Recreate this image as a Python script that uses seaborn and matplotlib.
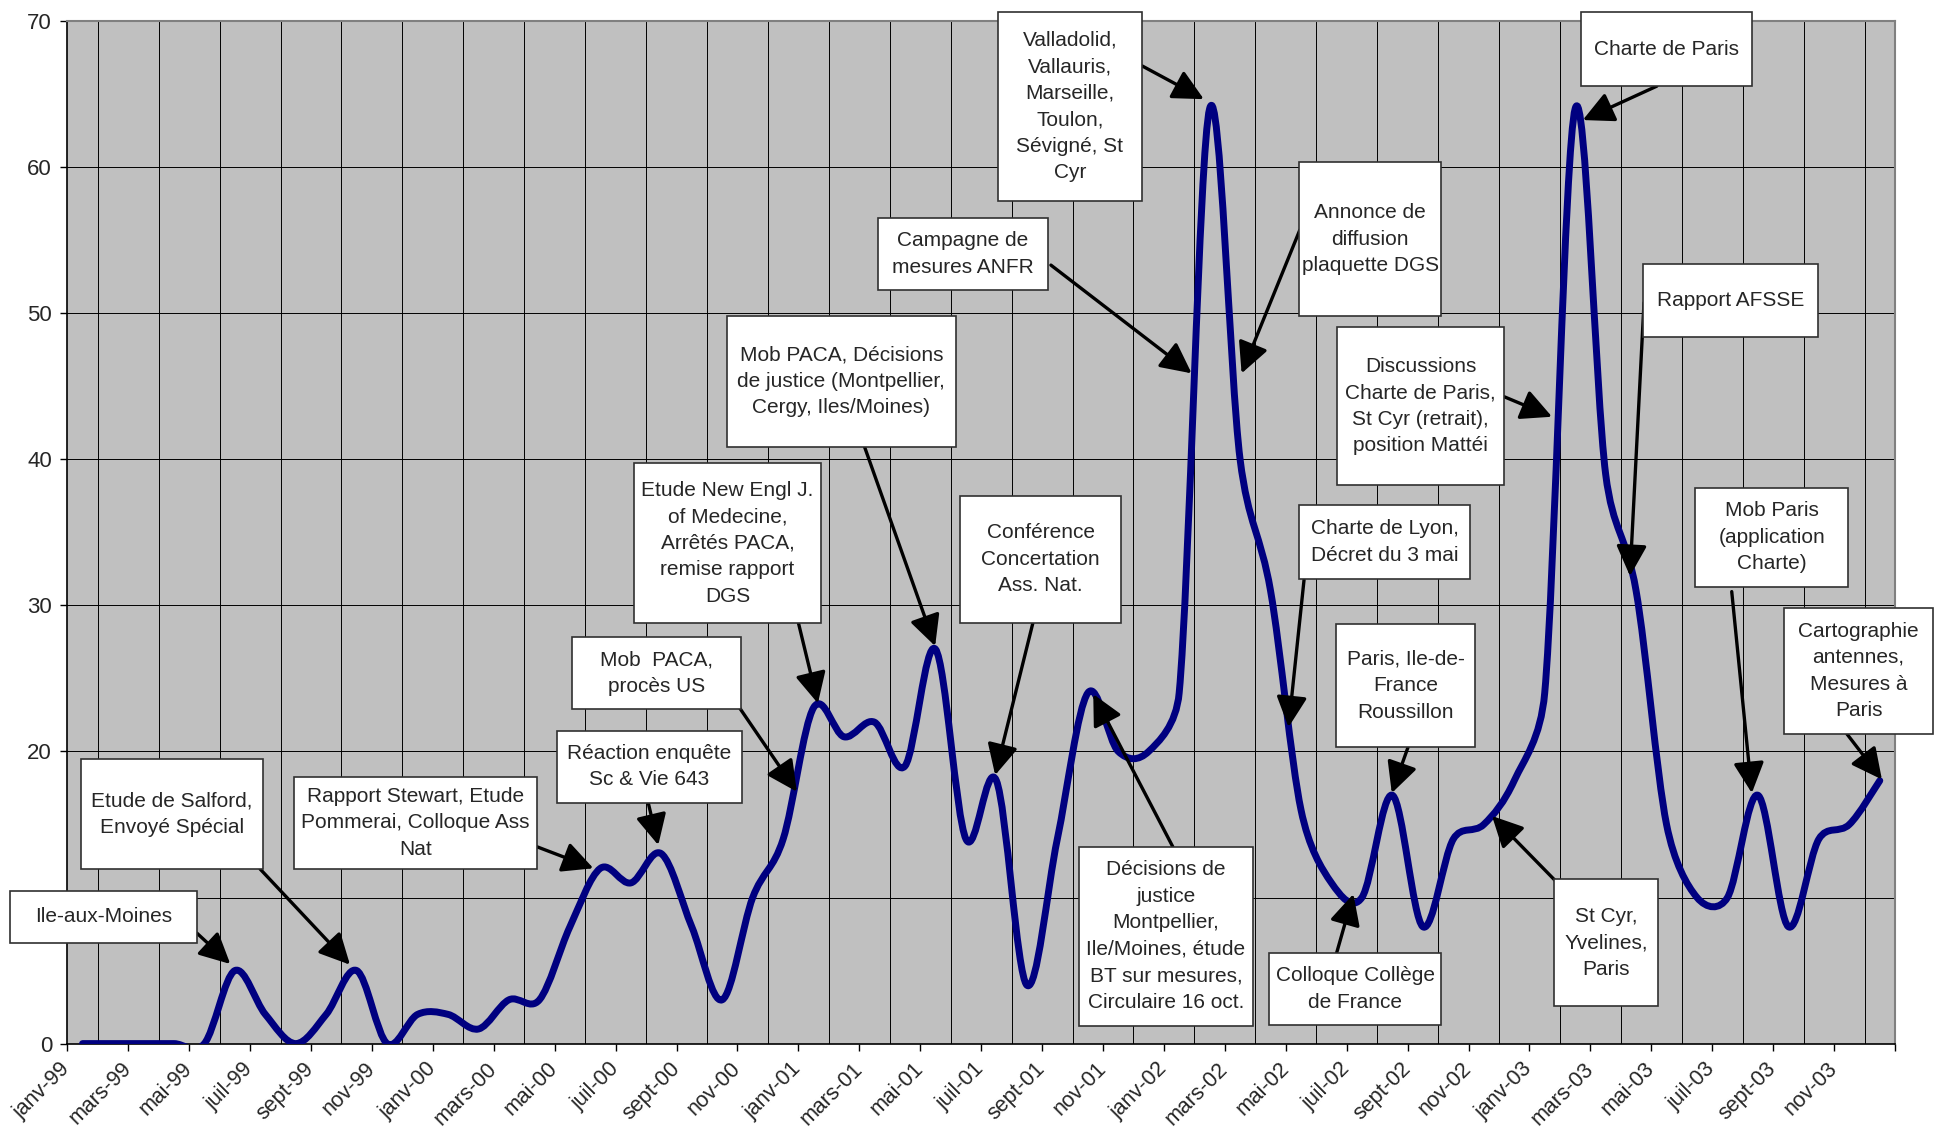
import numpy as np
import matplotlib
matplotlib.use("Agg")
import matplotlib.pyplot as plt
from matplotlib.path import Path
from matplotlib.patches import PathPatch, Rectangle
import seaborn as sns

# monthly counts, janv-99 .. déc-03
VALUES = [0, 0, 0, 0, 0, 5, 2, 0, 2, 5, 0, 2,
          2, 1, 3, 3, 8, 12, 11, 13, 8, 3, 10, 14,
          23, 21, 22, 19, 27, 14, 18, 4, 14, 24, 20, 20,
          24, 64, 40, 31, 16, 11, 10, 17, 8, 14, 15, 18,
          24, 64, 39, 31, 15, 10, 10, 17, 8, 14, 15, 18]

TICK_LABELS = ["janv-99", "mars-99", "mai-99", "juil-99", "sept-99", "nov-99",
               "janv-00", "mars-00", "mai-00", "juil-00", "sept-00", "nov-00",
               "janv-01", "mars-01", "mai-01", "juil-01", "sept-01", "nov-01",
               "janv-02", "mars-02", "mai-02", "juil-02", "sept-02", "nov-02",
               "janv-03", "mars-03", "mai-03", "juil-03", "sept-03", "nov-03"]

Y_TICKS = [0, 10, 20, 30, 40, 50, 60, 70]

# (text, box x0/x1 in months, box top/bottom in values, arrow start, arrow tip)
ANNOTATIONS = [
    ("Ile-aux-Moines", (-2.38, 3.77), (10.44, 6.91), (3.75, 7.57), (4.85, 5.45)),
    ("Etude de Salford,\nEnvoyé Spécial", (-0.06, 5.93), (19.46, 11.95), (5.83, 11.95), (8.78, 5.40)),
    ("Rapport Stewart, Etude\nPommerai, Colloque Ass\nNat", (6.94, 14.91), (18.27, 11.95), (14.91, 13.48), (16.77, 12.0)),
    ("Réaction enquête\nSc & Vie 643", (15.57, 21.66), (21.42, 16.49), (18.57, 16.49), (18.90, 13.59)),
    ("Mob  PACA,\nprocès US", (16.06, 21.63), (27.85, 22.90), (21.58, 22.95), (23.45, 17.24)),
    ("Etude New Engl J.\nof Medecine,\nArrêtés PACA,\nremise rapport\nDGS", (18.10, 24.24), (39.74, 28.79), (23.50, 28.81), (24.14, 23.29)),
    ("Mob PACA, Décisions\nde justice (Montpellier,\nCergy, Iles/Moines)", (21.15, 28.67), (49.80, 40.86), (25.67, 40.86), (27.99, 27.21)),
    ("Campagne de\nmesures ANFR", (26.11, 31.70), (56.53, 51.58), (31.79, 53.29), (36.41, 45.88)),
    ("Valladolid,\nVallauris,\nMarseille,\nToulon,\nSévigné, St\nCyr", (30.05, 34.78), (70.61, 57.67), (34.78, 66.93), (36.81, 64.65)),
    ("Annonce de\ndiffusion\nplaquette DGS", (39.94, 44.60), (60.34, 49.80), (39.96, 55.69), (38.05, 45.88)),
    ("Charte de Paris", (49.18, 54.81), (70.61, 65.54), (51.68, 65.54), (49.25, 63.22)),
    ("Rapport AFSSE", (51.22, 56.97), (53.36, 48.38), (51.26, 50.71), (50.80, 32.01)),
    ("Discussions\nCharte de Paris,\nSt Cyr (retrait),\nposition Mattéi", (41.18, 46.67), (49.07, 38.23), (46.67, 44.28), (48.24, 42.91)),
    ("Charte de Lyon,\nDécret du 3 mai", (39.94, 45.55), (36.87, 31.80), (40.10, 31.75), (39.59, 21.66)),
    ("Paris, Ile-de-\nFrance\nRoussillon", (41.15, 45.72), (28.74, 20.27), (43.51, 20.27), (42.98, 17.15)),
    ("Colloque Collège\nde France", (38.96, 44.60), (6.21, 1.27), (41.17, 6.21), (41.72, 10.24)),
    ("Décisions de\njustice\nMontpellier,\nIle/Moines, étude\nBT sur mesures,\nCirculaire 16 oct.", (32.72, 38.42), (13.48, 1.22), (35.79, 13.48), (33.18, 23.92)),
    ("Conférence\nConcertation\nAss. Nat.", (28.82, 34.08), (37.50, 28.81), (31.20, 28.81), (29.96, 18.38)),
    ("St Cyr,\nYvelines,\nParis", (48.31, 51.72), (11.27, 2.54), (48.34, 11.17), (46.27, 15.58)),
    ("Mob Paris\n(application\nCharte)", (52.95, 57.95), (38.06, 31.27), (54.14, 30.94), (54.80, 17.15)),
    ("Cartographie\nantennes,\nMesures à\nParis", (55.86, 60.75), (29.84, 21.20), (57.92, 21.20), (59.07, 18.08)),
]

sns.set_style("ticks")
plt.rcParams["font.family"] = ["Liberation Sans", "DejaVu Sans"]

fig = plt.figure(figsize=(19.43, 11.35), dpi=100)
ax = fig.add_axes([0.03464, 0.08053, 0.94066, 0.90097])
ax.set_facecolor("#c0c0c0")

n = len(VALUES)
ax.set_xlim(-0.5, n - 0.5)
ax.set_ylim(0, 70)


def smooth_path(xs, ys):
    # bezier through the points, handles capped at half the segment (in screen space)
    to_px = ax.transData
    p = to_px.transform(np.column_stack([xs, ys]))
    prev = np.vstack([p[:1], p[:-1]])
    nxt = np.vstack([p[1:], p[-1:]])
    tang = (nxt - prev) / 6.0
    verts = [p[0]]
    codes = [Path.MOVETO]
    for i in range(len(p) - 1):
        seg = np.hypot(*(p[i + 1] - p[i]))
        t0, t1 = tang[i], tang[i + 1]
        l0, l1 = np.hypot(*t0), np.hypot(*t1)
        if l0 > seg / 2:
            t0 = t0 * (seg / 2) / l0
        if l1 > seg / 2:
            t1 = t1 * (seg / 2) / l1
        verts += [p[i] + t0, p[i + 1] - t1, p[i + 1]]
        codes += [Path.CURVE4] * 3
    verts = to_px.inverted().transform(np.array(verts))
    return Path(verts, codes)


curve = PathPatch(smooth_path(np.arange(n, dtype=float), np.array(VALUES, dtype=float)),
                  facecolor="none", edgecolor="#000080", lw=5, zorder=3)
curve.set_capstyle("round")
curve.set_joinstyle("round")
ax.add_patch(curve)

bounds = np.arange(n + 1) - 0.5
ax.set_xticks(bounds, minor=True)
ax.set_xticks(bounds[::2])
ax.set_xticklabels(TICK_LABELS + [""], rotation=45, ha="right", va="center",
                   rotation_mode="anchor", fontsize=15.5)
ax.set_yticks(Y_TICKS)
ax.set_yticklabels([str(v) for v in Y_TICKS], fontsize=16)

ax.tick_params(axis="x", which="major", length=5, width=1, color="black", pad=11)
ax.tick_params(axis="x", which="minor", length=0)
ax.tick_params(axis="y", length=5, width=1, color="black", pad=6)

ax.grid(axis="x", which="minor", color="black", lw=0.7)
ax.grid(axis="x", which="major", visible=False)
ax.grid(axis="y", which="major", color="black", lw=0.7)
ax.set_axisbelow(True)

for side in ["left", "bottom"]:
    ax.spines[side].set_color("black")
    ax.spines[side].set_linewidth(1.2)
for side in ["top", "right"]:
    ax.spines[side].set_visible(True)
    ax.spines[side].set_color("#808080")
    ax.spines[side].set_linewidth(1.5)

for text, (bx0, bx1), (btop, bbot), start, tip in ANNOTATIONS:
    ax.annotate("", xy=tip, xytext=start, annotation_clip=False, zorder=5,
                arrowprops=dict(arrowstyle="-|>,head_length=0.4,head_width=0.2",
                                mutation_scale=47, lw=2.4, color="black",
                                shrinkA=0, shrinkB=0))
    ax.add_patch(Rectangle((bx0, bbot), bx1 - bx0, btop - bbot, facecolor="white",
                           edgecolor="#303030", lw=1.2, zorder=6, clip_on=False))
    ax.text((bx0 + bx1) / 2, (btop + bbot) / 2, text, ha="center", va="center",
            multialignment="center", fontsize=15, linespacing=1.5, zorder=7,
            clip_on=False)

fig.savefig("out.png", dpi=100, facecolor="white")
